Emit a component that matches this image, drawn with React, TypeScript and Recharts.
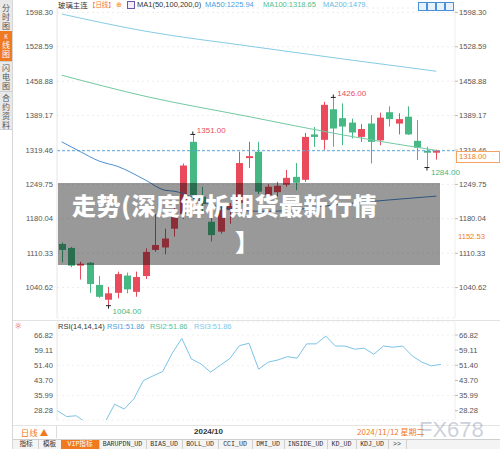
import React from "react";
import {
  ComposedChart, LineChart, Bar, Line, XAxis, YAxis, CartesianGrid,
  ReferenceLine, ReferenceDot
} from "recharts";

// trading days, 2024/09/06 .. 2024/11/12
const days = [
  "09/06", "09/09", "09/10", "09/11", "09/12", "09/13", "09/18", "09/19", "09/20", "09/23",
  "09/24", "09/25", "09/26", "09/27", "09/30", "10/08", "10/09", "10/10", "10/11", "10/14",
  "10/15", "10/16", "10/17", "10/18", "10/21", "10/22", "10/23", "10/24", "10/25", "10/28",
  "10/29", "10/30", "10/31", "11/01", "11/04", "11/05", "11/06", "11/07", "11/08", "11/11",
  "11/12",
];
const opens = [
  1129, 1121, 1085, 1091, 1046, 1016, 1030, 1065, 1032, 1064,
  1117, 1122, 1160, 1190, 1336, 1225, 1174, 1154, 1198, 1212,
  1303, 1316, 1228, 1234, 1249, 1265, 1259, 1351, 1340, 1402,
  1384, 1375, 1346, 1373, 1339, 1396, 1373, 1387, 1338, 1318,
  1314,
];
const highs = [
  1132, 1123, 1093, 1092, 1064, 1042, 1073, 1071, 1073, 1120,
  1190, 1160, 1218, 1292, 1351, 1245, 1194, 1205, 1212, 1316,
  1336, 1336, 1250, 1255, 1279, 1293, 1354, 1366, 1417, 1426,
  1414, 1383, 1372, 1390, 1395, 1408, 1394, 1408, 1380, 1326,
  1320,
];
const lows = [
  1092, 1082, 1057, 1030, 1020, 1004, 1019, 1029, 1022, 1058,
  1113, 1108, 1144, 1180, 1220, 1195, 1134, 1150, 1170, 1205,
  1283, 1230, 1215, 1225, 1245, 1238, 1255, 1326, 1320, 1326,
  1329, 1343, 1336, 1292, 1329, 1367, 1351, 1350, 1299, 1284,
  1300,
];
const closes = [
  1117, 1085, 1089, 1048, 1022, 1029, 1068, 1037, 1062, 1113,
  1127, 1140, 1188, 1288, 1228, 1210, 1147, 1198, 1206, 1293,
  1307, 1235, 1245, 1247, 1263, 1253, 1346, 1346, 1411, 1363,
  1367, 1355, 1362, 1336, 1385, 1382, 1382, 1351, 1324, 1314,
  1318,
];
// moving averages, read at a few points only
const ma50 = [
  1336, null, 1316, null, 1297, null, 1286, null, null, 1258,
  null, 1238, 1236, null, null, null, 1208, null, null, null,
  1196, null, 1195, null, null, null, null, null, null, null,
  1210, null, null, null, null, null, null, null, null, null,
  1226,
];
const ma100 = [
  1471, null, null, null, null, null, null, null, null, 1428,
  null, null, null, null, null, null, null, null, null, null,
  1387, null, null, null, null, null, null, null, null, null,
  1350, null, null, null, null, null, null, null, null, null,
  1318.65,
];
const ma200 = [
  1595, null, null, null, null, null, null, null, null, 1560,
  null, null, null, null, null, null, null, null, null, null,
  1530, null, null, null, null, null, null, null, null, null,
  1504, null, null, null, null, null, null, null, null, null,
  1479,
];
const rsi = [
  28.4, 25.3, 25.7, 22.3, 20.6, 22.3, 31.6, 29.1, 34.3, 43.6,
  46.0, 48.2, 57.5, 65.1, 54.6, 52.1, 47.9, 51.4, 54.8, 61.4,
  62.6, 49.4, 53.0, 54.1, 55.8, 55.0, 62.3, 62.3, 66.3, 61.2,
  61.2, 59.6, 60.1, 57.0, 61.2, 60.6, 61.2, 56.2, 53.0, 51.1,
  51.86,
];
const priceTicks = [1040.62, 1110.33, 1180.04, 1249.75, 1319.46, 1389.17, 1458.88, 1528.59, 1598.3];
const rsiTicks = [28.28, 35.99, 43.7, 51.4, 59.11, 66.82];
const lastPrice = 1318;
const extremes = [
  { day: "09/30", value: 1351, text: "1351.00", kind: "high" },
  { day: "10/28", value: 1426, text: "1426.00", kind: "high" },
  { day: "09/13", value: 1004, text: "1004.00", kind: "low" },
  { day: "11/11", value: 1284, text: "1284.00", kind: "low" },
];

const RED = "#ea4b5c";
const GREEN = "#45b883";
const NUM_FONT = "'Liberation Sans', Arial, sans-serif";
const CJK_FONT = "'Noto Sans CJK SC', 'Noto Sans', sans-serif";
const ORANGE = "#f07a1f";

const data = days.map((day, i) => ({
  day,
  open: opens[i],
  high: highs[i],
  low: lows[i],
  close: closes[i],
  ma50: ma50[i],
  ma100: ma100[i],
  ma200: ma200[i],
  rsi: rsi[i],
}));

function Candle(props: any) {
  const { x, y, width, height, payload } = props;
  const { open, close, high, low } = payload;
  const color = close >= open ? RED : GREEN;
  const top0 = Math.min(y, y + height);
  const h = Math.abs(height);
  const span = high - low || 1;
  const toY = (v: number) => top0 + ((high - v) / span) * h;
  const cx = Math.round(x + width / 2) + 0.5;
  const bTop = toY(Math.max(open, close));
  const bBot = toY(Math.min(open, close));
  return (
    <g>
      <line x1={cx} x2={cx} y1={top0} y2={top0 + h} stroke={color} strokeWidth={1} />
      <rect x={cx - 3.5} y={bTop} width={7} height={Math.max(1, bBot - bTop)} fill={color} />
    </g>
  );
}

function ExtremeMark(props: any, e: any) {
  const { cx, cy } = props;
  const high = e.kind === "high";
  const c = high ? RED : GREEN;
  return (
    <g>
      <line x1={cx - 2.5} x2={cx + 2.5} y1={cy} y2={cy} stroke="#222" strokeWidth={1} />
      <line x1={cx} x2={cx} y1={high ? cy - 3 : cy} y2={high ? cy : cy + 3} stroke="#222" strokeWidth={1} />
      <text
        x={cx + 4}
        y={high ? cy - 1 : cy + 8}
        fontSize={8}
        fontFamily={NUM_FONT}
        fill={c}
      >
        {e.text}
      </text>
    </g>
  );
}

const tickStyle = { fontSize: 7.6, fill: "#555", fontFamily: NUM_FONT };
const fmt = (v: number) => v.toFixed(2);

const sideTabs = [
  { label: "分时图", top: 2, h: 29, active: false },
  { label: "K线图", top: 31, h: 30, active: true },
  { label: "闪电图", top: 62, h: 29, active: false },
  { label: "合约资料", top: 92, h: 37, active: false },
];

const bottomTabs = [
  { label: "指标", x: 14, w: 24 },
  { label: "模板", x: 38, w: 23 },
  { label: "VIP指标", x: 61, w: 38, vip: true },
  { label: "BARUPDN_UD", x: 99, w: 47 },
  { label: "BIAS_UD", x: 146, w: 36 },
  { label: "BOLL_UD", x: 182, w: 36 },
  { label: "CCI_UD", x: 218, w: 34 },
  { label: "DMI_UD", x: 252, w: 32 },
  { label: "INSIDE_UD", x: 284, w: 43 },
  { label: "KD_UD", x: 327, w: 29 },
  { label: "KDJ_UD", x: 356, w: 32 },
  { label: ">>", x: 388, w: 18 },
];

function Abs({ left, top, children, style }: any) {
  return (
    <div style={{ position: "absolute", left, top, whiteSpace: "nowrap", lineHeight: "10px", ...style }}>
      {children}
    </div>
  );
}

export default function App() {
  return (
    <div style={{ position: "absolute", left: 0, top: 0, width: 500, height: 449, background: "#fff", overflow: "hidden" }}>
      {/* main candle chart */}
      <div style={{ position: "absolute", left: 0, top: 0 }}>
        <ComposedChart width={500} height={322} data={data} margin={{ top: 8, right: 0, bottom: 4, left: 0 }}>
          <CartesianGrid yAxisId="left" vertical={false} stroke="#ececec" strokeDasharray="2 3" />
          <XAxis dataKey="day" hide padding={{ left: 0, right: 14 }} />
          <YAxis
            yAxisId="left"
            orientation="left"
            width={57}
            type="number"
            domain={[979, 1607.2]}
            allowDataOverflow
            ticks={priceTicks}
            tickFormatter={fmt}
            tick={tickStyle}
            tickLine={false}
            axisLine={{ stroke: "#e6e6e6" }}
            tickSize={2}
            tickMargin={2}
          />
          <YAxis
            yAxisId="right"
            orientation="right"
            width={45}
            type="number"
            domain={[979, 1607.2]}
            allowDataOverflow
            ticks={priceTicks}
            tickFormatter={fmt}
            tick={tickStyle}
            tickLine={{ stroke: "#bbb" }}
            axisLine={{ stroke: "#eeeeee" }}
            tickSize={3}
            tickMargin={1}
          />
          <ReferenceLine yAxisId="left" y={lastPrice} stroke="#5aa6dc" strokeDasharray="3 2" />
          <Bar yAxisId="left" dataKey={(d: any) => [d.low, d.high]} barSize={7} shape={Candle} isAnimationActive={false} />
          <Line yAxisId="left" type="monotone" dataKey="ma200" stroke="#86cbe4" strokeWidth={1} dot={false} connectNulls isAnimationActive={false} />
          <Line yAxisId="left" type="monotone" dataKey="ma100" stroke="#72c9a2" strokeWidth={1} dot={false} connectNulls isAnimationActive={false} />
          <Line yAxisId="left" type="monotone" dataKey="ma50" stroke="#4f8fd2" strokeWidth={1} dot={false} connectNulls isAnimationActive={false} />
          {extremes.map((e) => (
            <ReferenceDot
              key={e.text}
              yAxisId="left"
              x={e.day}
              y={e.value}
              r={0}
              shape={(p: any) => ExtremeMark(p, e)}
            />
          ))}
        </ComposedChart>
      </div>

      {/* RSI panel */}
      <div style={{ position: "absolute", left: 13, top: 320, width: 487, height: 1, background: "#e2e2e2" }} />
      <div style={{ position: "absolute", left: 0, top: 320 }}>
        <LineChart width={500} height={105} data={data} margin={{ top: 2, right: 0, bottom: 5, left: 0 }}>
          <CartesianGrid yAxisId="l" vertical={false} stroke="#f0f0f0" strokeDasharray="2 3" />
          <XAxis dataKey="day" hide padding={{ left: 0, right: 14 }} />
          <YAxis
            yAxisId="l"
            orientation="left"
            width={57}
            type="number"
            domain={[23.54, 73.44]}
            allowDataOverflow
            ticks={rsiTicks}
            tickFormatter={fmt}
            tick={tickStyle}
            tickLine={false}
            axisLine={{ stroke: "#e6e6e6" }}
            tickSize={2}
            tickMargin={2}
          />
          <YAxis
            yAxisId="r"
            orientation="right"
            width={45}
            type="number"
            domain={[23.54, 73.44]}
            allowDataOverflow
            ticks={rsiTicks}
            tickFormatter={fmt}
            tick={tickStyle}
            tickLine={{ stroke: "#bbb" }}
            axisLine={{ stroke: "#eeeeee" }}
            tickSize={3}
            tickMargin={1}
          />
          <Line yAxisId="l" type="linear" dataKey="rsi" stroke="#7cc3e6" strokeWidth={1} dot={false} isAnimationActive={false} />
        </LineChart>
      </div>

      {/* left sidebar */}
      <div style={{ position: "absolute", left: 0, top: 0, width: 12, height: 129, background: "#e9e9e9" }} />
      <div style={{ position: "absolute", left: 12, top: 0, width: 1, height: 449, background: "#d6d6d6" }} />
      {sideTabs.map((t) => (
        <div
          key={t.label}
          style={{
            position: "absolute", left: 0, top: t.top, width: 12, height: t.h,
            background: t.active ? ORANGE : "transparent",
            borderBottom: "1px solid #d0d0d0",
            display: "flex", flexDirection: "column", alignItems: "center", justifyContent: "center",
            fontFamily: CJK_FONT, color: t.active ? "#fff" : "#555",
          }}
        >
          {t.label.split("").map((ch, i) => (
            <span key={i} style={{ display: "block", height: ch === "K" ? 6 : 9, fontSize: ch === "K" ? 5.5 : 8, lineHeight: ch === "K" ? "6px" : "9px" }}>{ch}</span>
          ))}
        </div>
      ))}

      {/* title row */}
      <Abs left={58} top={0} style={{ fontFamily: CJK_FONT, fontSize: 7.4, color: "#333" }}>玻璃主连</Abs>
      <Abs left={89} top={0} style={{ fontFamily: CJK_FONT, fontSize: 6.4, color: ORANGE }}>【日线】</Abs>
      <Abs left={116} top={0} style={{ fontFamily: "'DejaVu Sans'", fontSize: 7, color: ORANGE }}>⊕</Abs>
      <div style={{ position: "absolute", left: 127, top: 1, width: 6, height: 6, border: "1px solid #6d56a8", background: "#f1eefa" }} />
      <Abs left={137} top={0} style={{ fontFamily: NUM_FONT, fontSize: 7.5, color: "#333" }}>MA1(50,100,200,0)</Abs>
      <Abs left={205} top={0} style={{ fontFamily: NUM_FONT, fontSize: 7.5, color: "#4a9fe0" }}>MA50:1225.94</Abs>
      <Abs left={263} top={0} style={{ fontFamily: NUM_FONT, fontSize: 7.5, color: "#52bd8b" }}>MA100:1318.65</Abs>
      <Abs left={323} top={0} style={{ fontFamily: NUM_FONT, fontSize: 7.5, color: "#6ab8e0" }}>MA200:1479.</Abs>
      {[418, 427, 436, 445].map((x) => (
        <div key={x} style={{ position: "absolute", left: x, top: 2, width: 7, height: 7, border: "1px solid #4a90d9", background: "#e8f2fc" }} />
      ))}

      {/* price tags on the right axis */}
      <div style={{
        position: "absolute", left: 456, top: 151, width: 40, height: 10, border: "1px solid #f3a366",
        background: "#fff", color: ORANGE, fontFamily: NUM_FONT, fontSize: 7.6, lineHeight: "10px", paddingLeft: 2,
      }}>1318.00</div>
      <Abs left={458} top={232} style={{ fontFamily: NUM_FONT, fontSize: 7.6, color: ORANGE }}>1152.53</Abs>

      {/* article overlay */}
      <div style={{ position: "absolute", left: 58, top: 183, width: 382, height: 82, background: "rgba(0,0,0,0.4)" }} />
      <Abs left={72} top={190} style={{ fontFamily: CJK_FONT, fontSize: 24, fontWeight: 900, color: "#fff", lineHeight: "30px", letterSpacing: 0.6 }}>
        走势(深度解析期货最新行情
      </Abs>
      <Abs left={235} top={226} style={{ fontFamily: CJK_FONT, fontSize: 24, fontWeight: 900, color: "#fff", lineHeight: "30px" }}>
        】
      </Abs>

      {/* RSI header */}
      <Abs left={14} top={321} style={{ fontFamily: "'DejaVu Sans'", fontSize: 9, color: "#e24a4a" }}>☼</Abs>
      <Abs left={58} top={322} style={{ fontFamily: NUM_FONT, fontSize: 7.5, color: "#333" }}>RSI(14,14,14)</Abs>
      <Abs left={107} top={322} style={{ fontFamily: NUM_FONT, fontSize: 7.5, color: "#4a9fe0" }}>RSI1:51.86</Abs>
      <Abs left={150} top={322} style={{ fontFamily: NUM_FONT, fontSize: 7.5, color: "#5cc08e" }}>RSI2:51.86</Abs>
      <Abs left={194} top={322} style={{ fontFamily: NUM_FONT, fontSize: 7.5, color: "#7ec6e8" }}>RSI3:51.86</Abs>

      {/* date row */}
      <div style={{ position: "absolute", left: 13, top: 425, width: 487, height: 1, background: "#e4e4e4" }} />
      <div style={{
        position: "absolute", left: 13, top: 426, width: 43, height: 12, borderRight: "1px solid #ddd",
        color: ORANGE, fontFamily: CJK_FONT, fontSize: 8.5, lineHeight: "12px", textAlign: "center",
      }}>日线 ▲</div>
      <Abs left={194} top={427} style={{ fontFamily: NUM_FONT, fontSize: 8, fontWeight: 700, color: "#333" }}>2024/10</Abs>
      <Abs left={357} top={427} style={{ fontFamily: CJK_FONT, fontSize: 8, color: ORANGE }}>2024/11/12 星期二</Abs>
      <Abs left={419} top={418} style={{ fontFamily: NUM_FONT, fontSize: 22, lineHeight: "24px", color: "rgba(140,150,175,0.45)" }}>FX678</Abs>

      {/* indicator tabs */}
      <div style={{ position: "absolute", left: 13, top: 439, width: 487, height: 10, background: "#f4f4f4", borderTop: "1px solid #cfcfcf" }} />
      {bottomTabs.map((t) => (
        <div
          key={t.label}
          style={{
            position: "absolute", left: t.x, top: 440, width: t.w, height: 9,
            background: t.vip ? ORANGE : "transparent",
            borderRight: "1px solid #cfcfcf",
            color: t.vip ? "#fff" : "#333",
            fontFamily: "'Liberation Mono', 'Noto Sans CJK SC', monospace",
            fontSize: 6.6, lineHeight: "9px", textAlign: "center",
          }}
        >
          {t.label}
        </div>
      ))}
    </div>
  );
}
